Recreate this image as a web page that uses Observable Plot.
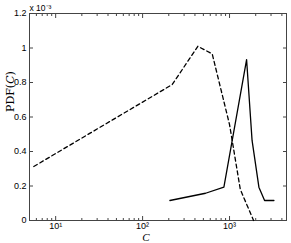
<!DOCTYPE html>
<html><head><meta charset="utf-8">
<script src="https://cdn.jsdelivr.net/npm/d3@7"></script>
<script src="https://cdn.jsdelivr.net/npm/@observablehq/plot@0.6"></script>
<style>body{margin:0;background:#fff}</style>
</head><body><div id="chart"></div>
<script>
// Dashed series
const dashedC = [5.6, 219, 432, 632, 1000, 1330, 1890];
const dashedPdf = [0.313e-3, 0.788e-3, 1.01e-3, 0.966e-3, 0.556e-3, 0.18e-3, 0.0];
// Solid series
const solidC = [206, 530, 861, 1571, 1816, 2176, 2530, 3240];
const solidPdf = [0.116e-3, 0.158e-3, 0.193e-3, 0.932e-3, 0.464e-3, 0.193e-3, 0.116e-3, 0.116e-3];
// Ticks
const xMajor = [10, 100, 1000];
const xMajorLabels = ["10¹", "10²", "10³"];
const yTicks = [0, 0.2e-3, 0.4e-3, 0.6e-3, 0.8e-3, 1.0e-3, 1.2e-3];
const yTickLabels = ["0", "0.2", "0.4", "0.6", "0.8", "1", "1.2"];

const dashed = dashedC.map((c, i) => ({c, p: dashedPdf[i]}));
const solid = solidC.map((c, i) => ({c, p: solidPdf[i]}));
const xMinor = [];
for (const d of [1, 10, 100, 1000]) for (let k = 1; k < 10; k++) { const v = k * d; if (v >= 5 && v <= 4500 && !xMajor.includes(v)) xMinor.push(v); }

const axisCol = "#444";
const plot = Plot.plot({
  width: 291, height: 243,
  marginLeft: 29, marginRight: 5, marginTop: 13, marginBottom: 23,
  style: {fontFamily: "'Liberation Sans', Arial, sans-serif", fontSize: "9px", background: "#fff", color: "#000"},
  x: {type: "log", domain: [5, 4520]},
  y: {domain: [0, 0.0012]},
  marks: [
    Plot.frame({stroke: axisCol, strokeWidth: 1}),
    Plot.axisX(xMinor, {anchor: "bottom", tickSize: -2, tickFormat: () => "", stroke: axisCol, label: null}),
    Plot.axisX(xMinor, {anchor: "top", tickSize: -2, tickFormat: () => "", stroke: axisCol, label: null}),
    Plot.axisX(xMajor, {anchor: "bottom", tickSize: -4, tickFormat: () => "", stroke: axisCol, label: null}),
    Plot.axisX(xMajor, {anchor: "top", tickSize: -4, tickFormat: () => "", stroke: axisCol, label: null}),
    Plot.axisX(xMajor, {anchor: "bottom", tickSize: 0, tickPadding: 2, tickFormat: d => xMajorLabels[xMajor.indexOf(d)], label: null}),
    Plot.axisY(yTicks, {anchor: "left", tickSize: -4, tickFormat: () => "", stroke: axisCol, label: null}),
    Plot.axisY(yTicks, {anchor: "right", tickSize: -4, tickFormat: () => "", stroke: axisCol, label: null}),
    Plot.axisY(yTicks, {anchor: "left", tickSize: 0, tickPadding: 3, tickFormat: d => yTickLabels[yTicks.indexOf(d)], label: null}),
    Plot.line(dashed, {x: "c", y: "p", stroke: "#000", strokeWidth: 1.3, strokeDasharray: "4,3"}),
    Plot.line(solid, {x: "c", y: "p", stroke: "#000", strokeWidth: 1.3}),
    Plot.text(["x 10⁻³"], {frameAnchor: "top-left", textAnchor: "start", lineAnchor: "bottom", dx: 0, dy: -3, fontSize: 8.5}),
    Plot.text(["PDF(C)"], {frameAnchor: "left", rotate: -90, dx: -19, dy: -5, fontSize: 11, fontFamily: "'DejaVu Serif', 'Liberation Serif', serif", className: "ylab"}),
    Plot.text(["C"], {frameAnchor: "bottom", lineAnchor: "middle", dx: -12, dy: 17, fontSize: 11, fontStyle: "italic", fontFamily: "'Liberation Serif', serif"})
  ]
});
document.getElementById("chart").appendChild(plot);
// italicize the C inside the y label
const yl = plot.querySelector(".ylab text");
if (yl) {
  yl.textContent = "";
  const ns = "http://www.w3.org/2000/svg";
  const a = document.createElementNS(ns, "tspan"); a.textContent = "PDF(";
  const b = document.createElementNS(ns, "tspan"); b.textContent = "C"; b.setAttribute("font-style", "italic");
  const c = document.createElementNS(ns, "tspan"); c.textContent = ")";
  yl.append(a, b, c);
}
</script>
</body></html>
